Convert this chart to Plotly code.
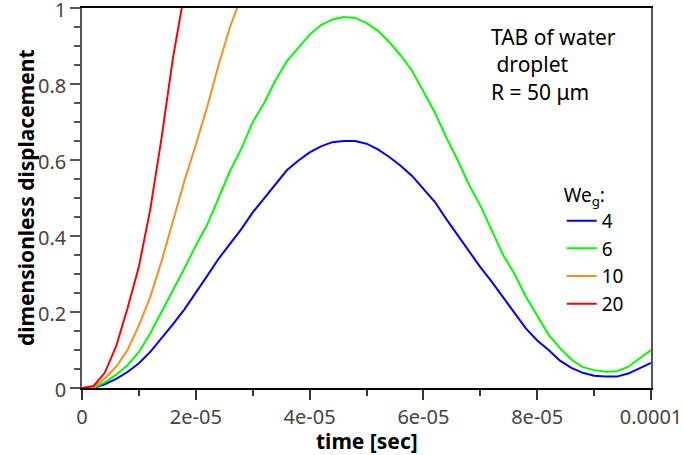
import plotly.graph_objects as go

t_full = [i * 2e-6 for i in range(51)]

we4 = [0.0, 0.0, 0.01, 0.024, 0.042, 0.065, 0.095, 0.13, 0.168, 0.207,
       0.25, 0.295, 0.34, 0.38, 0.418, 0.462, 0.5, 0.537, 0.573, 0.598,
       0.62, 0.636, 0.647, 0.65, 0.65, 0.643, 0.628, 0.608, 0.585, 0.558,
       0.525, 0.49, 0.445, 0.403, 0.36, 0.318, 0.28, 0.24, 0.2, 0.157,
       0.125, 0.1, 0.072, 0.053, 0.04, 0.032, 0.03, 0.03, 0.038, 0.052, 0.066]

we6 = [0.0, 0.0, 0.015, 0.035, 0.06, 0.095, 0.144, 0.2, 0.26, 0.315,
       0.375, 0.43, 0.5, 0.571, 0.63, 0.70, 0.75, 0.81, 0.86, 0.895,
       0.93, 0.955, 0.97, 0.976, 0.974, 0.96, 0.94, 0.91, 0.875, 0.835,
       0.78, 0.725, 0.66, 0.6, 0.535, 0.48, 0.415, 0.35, 0.3, 0.24,
       0.19, 0.14, 0.105, 0.075, 0.055, 0.047, 0.043, 0.044, 0.056, 0.077, 0.1]

we10 = [0.0, 0.002, 0.025, 0.056, 0.1, 0.165, 0.24, 0.335, 0.44, 0.545,
        0.64, 0.74, 0.85, 0.95, 1.03]

we20 = [0.0, 0.005, 0.04, 0.11, 0.21, 0.32, 0.47, 0.66, 0.87, 1.04]

names = ["4", "6", "10", "20"]
colors = ["#0000ff", "#00ff00", "#ff8c1a", "#ff0000"]
series = [we4, we6, we10, we20]

xtickvals = [0, 2e-5, 4e-5, 6e-5, 8e-5, 1e-4]
xticktext = ["0", "2e-05", "4e-05", "6e-05", "8e-05", "0.0001"]
ytickvals = [0, 0.2, 0.4, 0.6, 0.8, 1.0]
yticktext = ["0", "0.2", "0.4", "0.6", "0.8", "1"]

note_text = "TAB of water<br> droplet<br>R = 50 μm"
x_title = "time [sec]"
y_title = "dimensionless displacement"

FONT = "Noto Sans"
PLOT_H = 380

fig = go.Figure()
for n, c, s in zip(names, colors, series):
    fig.add_trace(go.Scatter(x=t_full[:len(s)], y=s, mode="lines", name=n,
                             line=dict(color=c, width=2)))

fig.update_layout(
    width=683, height=455,
    margin=dict(l=82, r=32, t=8, b=67),
    plot_bgcolor="white", paper_bgcolor="white",
    font=dict(family=FONT, size=20, color="#444"),
    showlegend=True,
    legend=dict(
        title=dict(text="We<sub>g</sub>:", font=dict(size=19, color="black")),
        font=dict(size=19, color="black"),
        x=0.843, y=0.555, xanchor="left", yanchor="top",
        bgcolor="rgba(0,0,0,0)", tracegroupgap=0, itemwidth=30,
    ),
    annotations=[
        dict(text=note_text, xref="paper", yref="paper",
             x=0.715, y=(388 - 64) / PLOT_H,
             xanchor="left", yanchor="middle", align="left", showarrow=False,
             font=dict(size=21, color="black", family=FONT)),
        dict(text="<b>" + x_title + "</b>", xref="paper", yref="paper",
             x=0.5, y=-(441 - 388) / PLOT_H,
             xanchor="center", yanchor="middle", showarrow=False,
             font=dict(size=21, color="black", family=FONT)),
        dict(text="<b>" + y_title + "</b>", xref="paper", yref="paper",
             x=-(82 - 26) / 569, y=0.5, textangle=-90,
             xanchor="center", yanchor="middle", showarrow=False,
             font=dict(size=21, color="black", family=FONT)),
    ],
)

fig.update_xaxes(
    range=[0, 1e-4], tickvals=xtickvals, ticktext=xticktext,
    showgrid=False, zeroline=False, automargin=False,
    showline=True, linecolor="black", linewidth=1.5, mirror=True,
    ticks="outside", ticklen=10, tickcolor="#333", tickwidth=1.5,
    minor=dict(dtick=1e-5, ticks="outside", ticklen=6, tickcolor="#333", showgrid=False),
    tickfont=dict(size=20, color="#444"),
    ticklabeloverflow="allow",
)
fig.update_yaxes(
    range=[0, 1], tickvals=ytickvals, ticktext=yticktext,
    showgrid=False, zeroline=False, automargin=False,
    showline=True, linecolor="#555", linewidth=1.5, mirror=True,
    ticks="outside", ticklen=10, tickcolor="#555", tickwidth=1.5,
    minor=dict(dtick=0.05, ticks="outside", ticklen=6, tickcolor="#555", showgrid=False),
    tickfont=dict(size=20, color="#444"),
    ticklabeloverflow="allow", ticklabelshift=2,
)

fig.write_html("out.html")
